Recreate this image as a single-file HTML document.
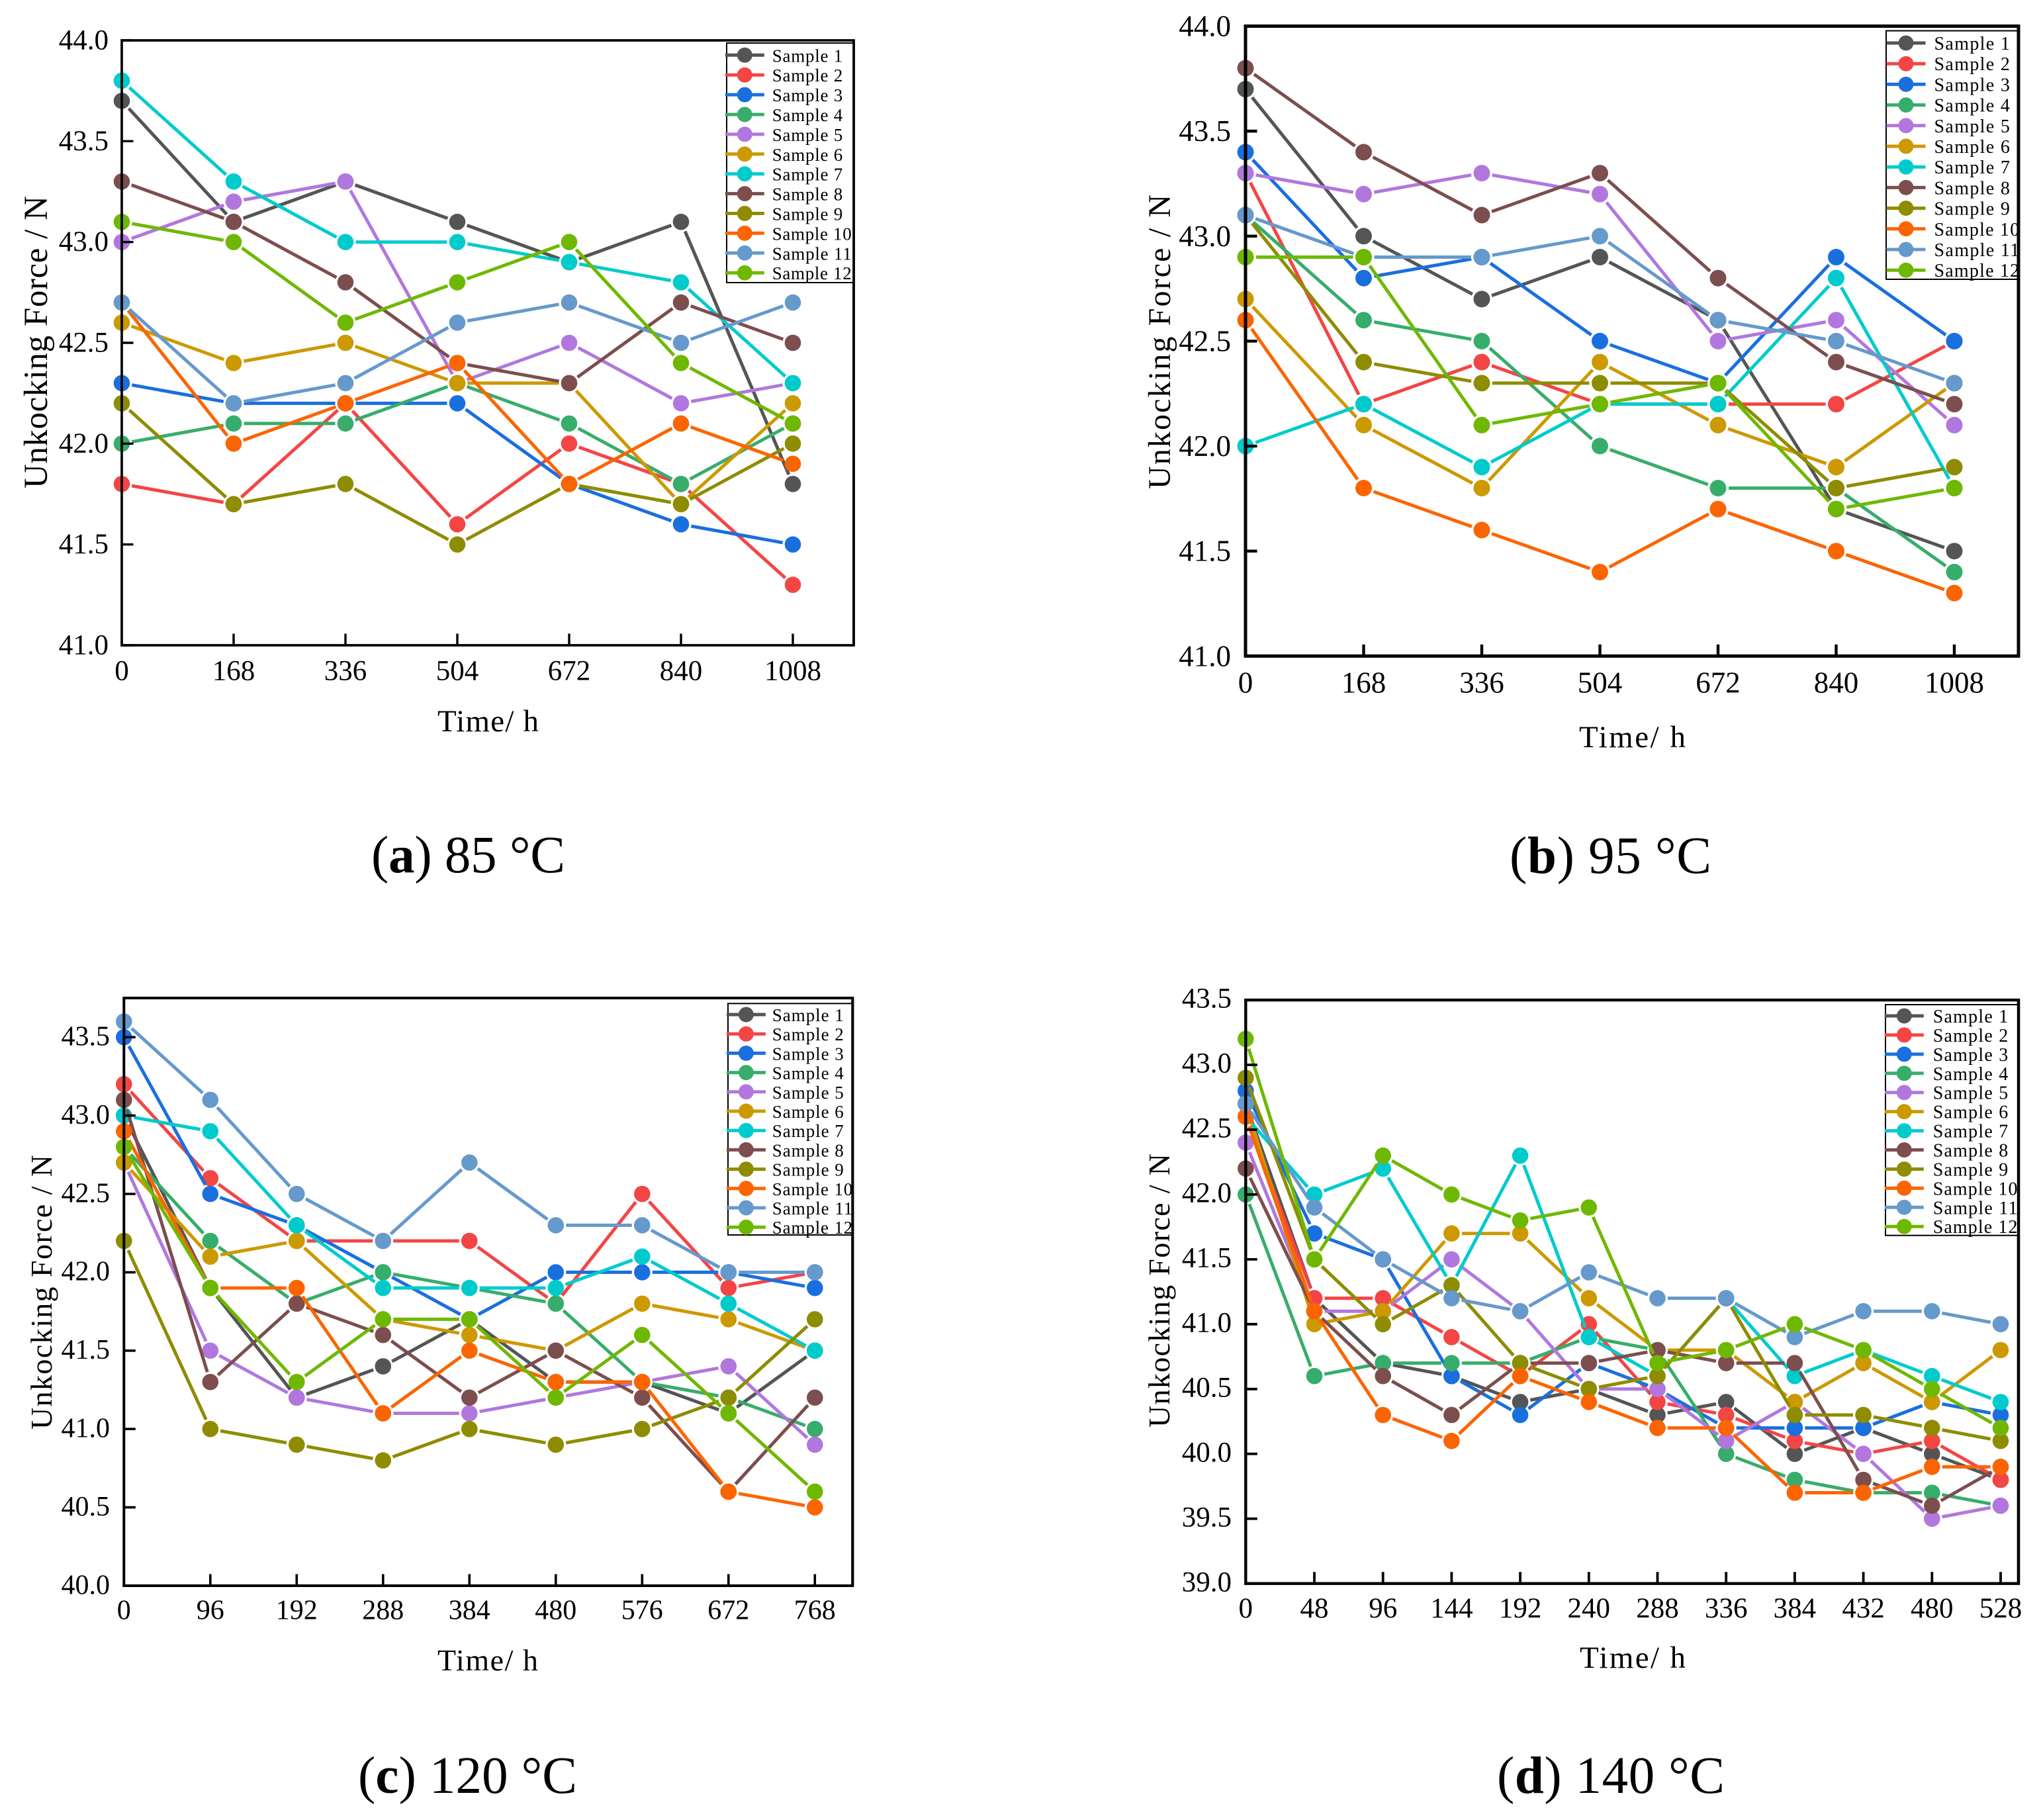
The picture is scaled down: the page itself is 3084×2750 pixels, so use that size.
<!DOCTYPE html>
<html lang="en">
<head>
<meta charset="utf-8">
<title>Unlocking force over time at four temperatures</title>
<style>
html,body{margin:0;padding:0;background:#fff;}
svg{display:block;}
text{fill:#000;font-family:"Liberation Serif",serif;}
</style>
</head>
<body>
<svg id="figure" xmlns="http://www.w3.org/2000/svg" width="3084" height="2750" viewBox="0 0 3084 2750"></svg>
<script>
const sampleNames = ["Sample 1","Sample 2","Sample 3","Sample 4","Sample 5","Sample 6","Sample 7","Sample 8","Sample 9","Sample 10","Sample 11","Sample 12"];
const sampleColors = ["#555555","#F44545","#1A6FDF","#37AD6B","#B177DE","#CC9900","#00CBCC","#7D4E4E","#8E8C00","#FB6501","#6699CC","#6FB802"];

const timesA = [0,168,336,504,672,840,1008];
const yTicksA = [41,41.5,42,42.5,43,43.5,44];
const valuesA = [
 [43.7,43.1,43.3,43.1,42.9,43.1,41.8],
 [41.8,41.7,42.2,41.6,42.0,41.8,41.3],
 [42.3,42.2,42.2,42.2,41.8,41.6,41.5],
 [42.0,42.1,42.1,42.3,42.1,41.8,42.1],
 [43.0,43.2,43.3,42.3,42.5,42.2,42.3],
 [42.6,42.4,42.5,42.3,42.3,41.7,42.2],
 [43.8,43.3,43.0,43.0,42.9,42.8,42.3],
 [43.3,43.1,42.8,42.4,42.3,42.7,42.5],
 [42.2,41.7,41.8,41.5,41.8,41.7,42.0],
 [42.7,42.0,42.2,42.4,41.8,42.1,41.9],
 [42.7,42.2,42.3,42.6,42.7,42.5,42.7],
 [43.1,43.0,42.6,42.8,43.0,42.4,42.1]
];

const timesB = [0,168,336,504,672,840,1008];
const yTicksB = [41,41.5,42,42.5,43,43.5,44];
const valuesB = [
 [43.7,43.0,42.7,42.9,42.6,41.7,41.5],
 [43.3,42.2,42.4,42.2,42.2,42.2,42.5],
 [43.4,42.8,42.9,42.5,42.3,42.9,42.5],
 [43.1,42.6,42.5,42.0,41.8,41.8,41.4],
 [43.3,43.2,43.3,43.2,42.5,42.6,42.1],
 [42.7,42.1,41.8,42.4,42.1,41.9,42.3],
 [42.0,42.2,41.9,42.2,42.2,42.8,41.8],
 [43.8,43.4,43.1,43.3,42.8,42.4,42.2],
 [43.1,42.4,42.3,42.3,42.3,41.8,41.9],
 [42.6,41.8,41.6,41.4,41.7,41.5,41.3],
 [43.1,42.9,42.9,43.0,42.6,42.5,42.3],
 [42.9,42.9,42.1,42.2,42.3,41.7,41.8]
];

const timesC = [0,96,192,288,384,480,576,672,768];
const yTicksC = [40,40.5,41,41.5,42,42.5,43,43.5];
const valuesC = [
 [43.0,41.9,41.2,41.4,41.7,41.3,41.3,41.1,41.5],
 [43.2,42.6,42.2,42.2,42.2,41.8,42.5,41.9,42.0],
 [43.5,42.5,42.3,42.0,41.7,42.0,42.0,42.0,41.9],
 [42.8,42.2,41.8,42.0,41.9,41.8,41.3,41.2,41.0],
 [42.7,41.5,41.2,41.1,41.1,41.2,41.3,41.4,40.9],
 [42.7,42.1,42.2,41.7,41.6,41.5,41.8,41.7,41.5],
 [43.0,42.9,42.3,41.9,41.9,41.9,42.1,41.8,41.5],
 [43.1,41.3,41.8,41.6,41.2,41.5,41.2,40.6,41.2],
 [42.2,41.0,40.9,40.8,41.0,40.9,41.0,41.2,41.7],
 [42.9,41.9,41.9,41.1,41.5,41.3,41.3,40.6,40.5],
 [43.6,43.1,42.5,42.2,42.7,42.3,42.3,42.0,42.0],
 [42.8,41.9,41.3,41.7,41.7,41.2,41.6,41.1,40.6]
];

const timesD = [0,48,96,144,192,240,288,336,384,432,480,528];
const yTicksD = [39,39.5,40,40.5,41,41.5,42,42.5,43,43.5];
const valuesD = [
 [42.7,41.2,40.7,40.6,40.4,40.5,40.3,40.4,40.0,40.2,40.0,39.8],
 [42.6,41.2,41.2,40.9,40.6,41.0,40.4,40.3,40.1,40.0,40.1,39.8],
 [42.8,41.7,41.5,40.6,40.3,40.7,40.5,40.2,40.2,40.2,40.4,40.3],
 [42.0,40.6,40.7,40.7,40.7,40.9,40.8,40.0,39.8,39.7,39.7,39.6],
 [42.4,41.1,41.1,41.5,41.1,40.5,40.5,40.1,40.4,40.0,39.5,39.6],
 [42.7,41.0,41.1,41.7,41.7,41.2,40.8,40.8,40.4,40.7,40.4,40.8],
 [42.6,42.0,42.2,41.3,42.3,40.9,40.6,41.2,40.6,40.8,40.6,40.4],
 [42.2,41.1,40.6,40.3,40.7,40.7,40.8,40.7,40.7,39.8,39.6,39.9],
 [42.9,41.5,41.0,41.3,40.7,40.5,40.6,41.2,40.3,40.3,40.2,40.1],
 [42.6,41.1,40.3,40.1,40.6,40.4,40.2,40.2,39.7,39.7,39.9,39.9],
 [42.7,41.9,41.5,41.2,41.1,41.4,41.2,41.2,40.9,41.1,41.1,41.0],
 [43.2,41.5,42.3,42.0,41.8,41.9,40.7,40.8,41.0,40.8,40.5,40.2]
];

const NS = "http://www.w3.org/2000/svg";
const figure = document.getElementById("figure");

function make(parent, tag, attrs, content) {
  const node = document.createElementNS(NS, tag);
  for (const k in attrs) node.setAttribute(k, attrs[k]);
  if (content !== undefined) node.textContent = content;
  parent.appendChild(node);
  return node;
}

function drawPanel(p) {
  const panel = make(figure, "g", {});
  
  

  const tMax = p.times[p.times.length - 1];
  const xScale = function (t) { return p.left + (t / tMax) * (p.lastX - p.left); };
  const yScale = function (v) { return p.bottom - ((v - p.yMin) / (p.yMax - p.yMin)) * (p.bottom - p.top); };

  // series: lines stop short of each marker
  p.values.forEach(function (series, si) {
    const g = make(panel, "g", {});
    
    
    let d = "";
    for (let i = 0; i < series.length - 1; i++) {
      const x0 = xScale(p.times[i]), y0 = yScale(series[i]);
      const x1 = xScale(p.times[i + 1]), y1 = yScale(series[i + 1]);
      const len = Math.hypot(x1 - x0, y1 - y0);
      if (len <= p.gap * 2) continue;
      const ux = (x1 - x0) / len, uy = (y1 - y0) / len;
      d += "M" + (x0 + ux * p.gap).toFixed(1) + " " + (y0 + uy * p.gap).toFixed(1) +
           "L" + (x1 - ux * p.gap).toFixed(1) + " " + (y1 - uy * p.gap).toFixed(1);
    }
    const line = make(g, "path", {d: d, fill: "none", stroke: sampleColors[si], "stroke-width": p.lineW});
    
    
    series.forEach(function (v, i) {
      const dot = make(g, "circle", {cx: xScale(p.times[i]).toFixed(1), cy: yScale(v).toFixed(1), r: p.markerR, fill: sampleColors[si]});
      
      
    });
  });

  // frame
  const frame = make(panel, "rect", {x: p.left, y: p.top, width: p.right - p.left, height: p.bottom - p.top, fill: "none", stroke: "#000", "stroke-width": p.axisW});
  
  

  // x ticks
  p.times.forEach(function (t) {
    const x = xScale(t);
    if (t !== 0) {
      const tick = make(panel, "line", {x1: x, x2: x, y1: p.bottom, y2: p.bottom - p.tickLen, stroke: "#000", "stroke-width": p.tickW});
      
      
    }
    const label = make(panel, "text", {x: x, y: p.xLabelY, "text-anchor": "middle", "font-size": p.tickFont}, String(t));
    
    
  });

  // y ticks
  p.yTicks.forEach(function (v) {
    const y = yScale(v);
    const tick = make(panel, "line", {x1: p.left, x2: p.left + p.tickLen, y1: y, y2: y, stroke: "#000", "stroke-width": p.tickW});
    
    
    const label = make(panel, "text", {x: p.yLabelX, y: y + p.yLabelDy, "text-anchor": "end", "font-size": p.tickFont}, v.toFixed(1));
    
    
  });

  // axis titles
  const xTitle = make(panel, "text", {x: p.xTitle[0], y: p.xTitle[1], "font-size": p.xTitle[3], textLength: p.xTitle[2], "xml:space": "preserve"}, "Time/ h");
  
  

  const yTitle = make(panel, "text", {transform: "translate(" + p.yTitle[0] + " " + p.yTitle[1] + ") rotate(-90)", x: 0, y: 0, "font-size": p.yTitle[3], textLength: p.yTitle[2]}, "Unkocking Force / N");
  
  

  // legend
  const lg = make(panel, "g", {});
  
  
  const box = make(lg, "rect", {x: p.legend.left, y: p.legend.top, width: p.right - p.legend.left, height: p.legend.bottom - p.legend.top, fill: "#fff", stroke: "#000", "stroke-width": 2});
  
  
  const rightEdge = make(lg, "line", {x1: p.right, x2: p.right, y1: p.top, y2: p.bottom, stroke: "#000", "stroke-width": p.axisW});
  
  
  sampleNames.forEach(function (name, i) {
    const y = p.legend.firstY + i * p.legend.step;
    const entry = make(lg, "g", {});
    
    
    const sw = make(entry, "line", {x1: p.legend.cx - 29.5, x2: p.legend.cx + 29.5, y1: y, y2: y, stroke: sampleColors[i], "stroke-width": 5});
    
    
    const dot = make(entry, "circle", {cx: p.legend.cx, cy: y, r: 11.5, fill: sampleColors[i]});
    
    
    const label = make(entry, "text", {x: p.legend.textX, y: y + 10, "font-size": p.legend.font, textLength: (name.length * p.legend.charW).toFixed(1)}, name);
    
    
  });

  // caption
  const cap = make(panel, "text", {x: p.caption[0], y: p.caption[1], "font-size": 79, textLength: p.caption[2]});
  
  
  cap.appendChild(document.createTextNode("("));
  make(cap, "tspan", {"font-weight": "bold"}, p.id);
  cap.appendChild(document.createTextNode(") " + p.capText));
}

drawPanel({id:"a", capText:"85 °C", times:timesA, yTicks:yTicksA, values:valuesA, yMin:41, yMax:44,
  left:184, lastX:1198, right:1290, top:61, bottom:975, axisW:3.7, tickW:3.4, tickLen:17.5, lineW:5, markerR:12.3, gap:15.5,
  tickFont:43, xLabelY:1027.5, yLabelX:164, yLabelDy:13.5,
  xTitle:[661,1105,153,47], yTitle:[71,738,442,51],
  legend:{left:1098,top:65,bottom:427,firstY:83.3,step:29.9,cx:1125.3,textX:1166.7,font:27,charW:13.33},
  caption:[561,1318,293]});

drawPanel({id:"b", capText:"95 °C", times:timesB, yTicks:yTicksB, values:valuesB, yMin:41, yMax:44,
  left:1882, lastX:2953, right:3050, top:39.5, bottom:991.3, axisW:5, tickW:4.4, tickLen:17.5, lineW:5, markerR:12.5, gap:16,
  tickFont:45, xLabelY:1046.7, yLabelX:1860, yLabelDy:15,
  xTitle:[2386,1129,161,47], yTitle:[1768,739,445,48],
  legend:{left:2850,top:46.5,bottom:422,firstY:65,step:31.2,cx:2880,textX:2922.5,font:28,charW:14.3},
  caption:[2281,1319,305]});

drawPanel({id:"c", capText:"120 °C", times:timesC, yTicks:yTicksC, values:valuesC, yMin:40, yMax:43.75,
  left:187.3, lastX:1231.3, right:1288.3, top:1508, bottom:2396, axisW:4, tickW:3.6, tickLen:17.5, lineW:5, markerR:12.3, gap:15.5,
  tickFont:42, xLabelY:2446.7, yLabelX:166, yLabelDy:12.3,
  xTitle:[661,2524,152,46], yTitle:[78,2160,415,46],
  legend:{left:1100,top:1516.3,bottom:1866,firstY:1533,step:29.2,cx:1127.4,textX:1166.8,font:27,charW:13.5},
  caption:[541,2709,331]});

drawPanel({id:"d", capText:"140 °C", times:timesD, yTicks:yTicksD, values:valuesD, yMin:39, yMax:43.5,
  left:1882.3, lastX:3023, right:3050, top:1511, bottom:2392.7, axisW:4.4, tickW:3.8, tickLen:17.5, lineW:5, markerR:12.3, gap:15.5,
  tickFont:43, xLabelY:2444, yLabelX:1861, yLabelDy:11.6,
  xTitle:[2387,2520,160,47], yTitle:[1767,2157,414,46],
  legend:{left:2849,top:1518,bottom:1866.7,firstY:1535,step:28.93,cx:2877.3,textX:2920.7,font:28,charW:14.2},
  caption:[2262,2709,344]});
</script>
</body>
</html>
